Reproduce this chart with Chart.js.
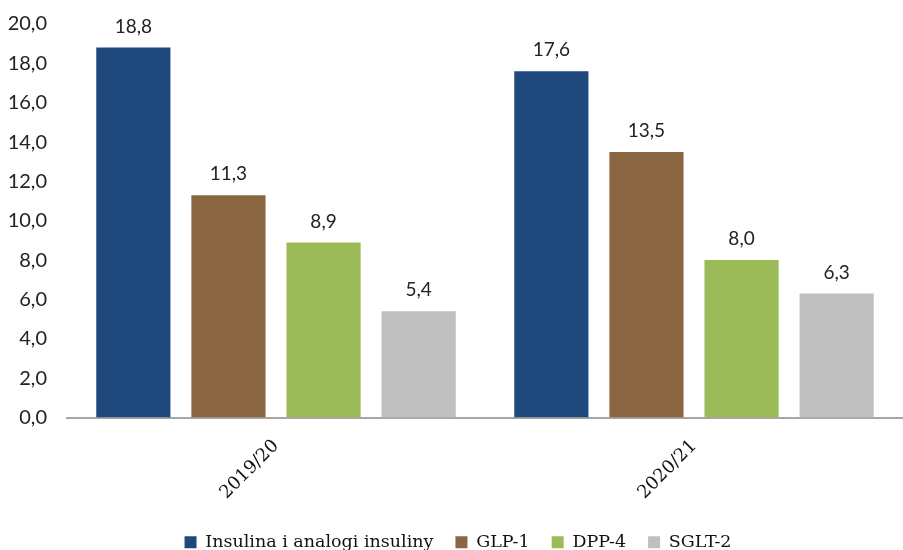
<!DOCTYPE html>
<html>
<head>
<meta charset="utf-8">
<script src="https://cdn.jsdelivr.net/npm/chart.js@4"></script>
<style>
  html, body { margin: 0; padding: 0; background: #fff; }
  #wrap { width: 903px; height: 550px; position: relative; }
</style>
</head>
<body>
<div id="wrap"><canvas id="chart"></canvas></div>
<script>
// data
const categories = ['2019/20', '2020/21'];
const seriesNames = ['Insulina i analogi insuliny', 'GLP-1', 'DPP-4', 'SGLT-2'];
const insulina = [18.8, 17.6];
const glp1 = [11.3, 13.5];
const dpp4 = [8.9, 8.0];
const sglt2 = [5.4, 6.3];
const yTicks = [0, 2, 4, 6, 8, 10, 12, 14, 16, 18, 20];

const colors = ['#1F497D', '#8B6642', '#9BBB59', '#BFBFBF'];
const fmt = v => v.toFixed(1).replace('.', ',');

// draws the value above every bar
const valueLabels = {
    id: 'valueLabels',
    afterDatasetsDraw(chart) {
        const ctx = chart.ctx;
        ctx.save();
        ctx.font = '19px Lato';
        ctx.fillStyle = '#222';
        ctx.textAlign = 'center';
        ctx.textBaseline = 'middle';
        chart.data.datasets.forEach((ds, i) => {
            chart.getDatasetMeta(i).data.forEach((bar, j) => {
                ctx.fillText(fmt(ds.data[j]), bar.x, bar.y - 21);
            });
        });
        ctx.restore();
    }
};

new Chart(document.getElementById('chart'), {
    type: 'bar',
    data: {
        labels: categories,
        datasets: [insulina, glp1, dpp4, sglt2].map((d, i) => ({
            label: seriesNames[i],
            data: d,
            backgroundColor: colors[i],
            categoryPercentage: 0.91,
            barPercentage: 0.78
        }))
    },
    options: {
        responsive: true,
        maintainAspectRatio: false,
        animation: false,
        layout: { autoPadding: false, padding: { top: 24, right: -5, left: 8, bottom: -11 } },
        plugins: {
            tooltip: { enabled: false },
            legend: {
                position: 'bottom',
                labels: {
                    boxWidth: 12,
                    boxHeight: 12,
                    padding: 22,
                    color: '#111',
                    font: { family: 'DejaVu Serif', size: 17.5 }
                }
            }
        },
        scales: {
            x: {
                afterFit: axis => { axis.height = 94; },
                grid: { display: false, drawTicks: false },
                border: { display: true, color: '#A6A6A6', width: 2 },
                ticks: {
                    color: '#111',
                    minRotation: 45,
                    maxRotation: 45,
                    padding: 18,
                    font: { family: 'DejaVu Serif', size: 18 }
                }
            },
            y: {
                min: 0,
                max: 20,
                afterBuildTicks: axis => { axis.ticks = yTicks.map(v => ({ value: v })); },
                afterFit: axis => {
                    axis.width = 59;
                    axis.paddingTop = 0;
                    axis.paddingBottom = 0;
                },
                grid: { display: false, drawTicks: false },
                border: { display: false },
                ticks: {
                    color: '#222',
                    padding: 20,
                    font: { family: 'Lato', size: 20 },
                    callback: v => fmt(v)
                }
            }
        }
    },
    plugins: [valueLabels]
});
</script>
</body>
</html>
